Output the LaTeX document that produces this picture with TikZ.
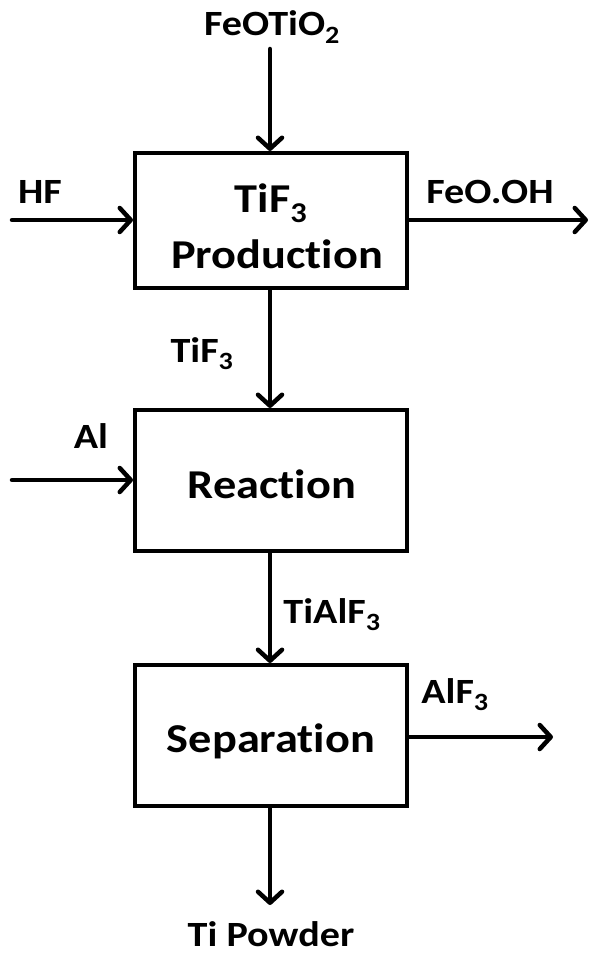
\documentclass[tikz,border=0pt]{standalone}
\usepackage{fontspec}
\setmainfont[Ligatures=NoCommon,FakeStretch=1.13]{Carlito}
\usetikzlibrary{arrows.meta}
\begin{document}
\begin{tikzpicture}[x=1pt,y=-1pt,
  proc/.style={draw,line width=4pt,minimum width=272pt,minimum height=141pt,inner sep=0pt},
  ptext/.style={anchor=base,inner sep=0pt,font=\fontsize{41}{56}\selectfont\bfseries},
  lbl/.style={anchor=base,inner sep=0pt,font=\fontsize{35.5}{40}\selectfont\bfseries},
  flow/.style={line width=4.5pt,line cap=round,-{Straight Barb[length=11pt,width=24pt,line cap=round,line join=round]}}]
\useasboundingbox (0,0) rectangle (594,955);
\node[proc,minimum height=135pt] (p1) at (271,220.5) {};
\node[proc] (p2) at (271,480.5) {};
\node[proc] (p3) at (271,735.5) {};
\node[ptext] (t1a) at (271,212) {TiF\textsubscript{3}};
\node[ptext] (t1b) at (277,268) {Production};
\node[ptext] (t2) at (272,498) {Reaction};
\node[ptext] (t3) at (271,752) {Separation};
\coordinate (feotop) at (270,49);
\coordinate (hfin) at (12,220);
\coordinate (feoout) at (588,220);
\coordinate (alin) at (12,480);
\coordinate (alfout) at (553,737);
\coordinate (tiout) at (270,905);
\node[lbl] (lfeo) at (272,36) {FeOTiO\textsubscript{2}};
\node[lbl] (lhf) at (40,203) {HF};
\node[lbl] (lfeooh) at (490,203) {FeO.OH};
\node[lbl] (ltif) at (202,362) {TiF\textsubscript{3}};
\node[lbl] (lal) at (91,448) {Al};
\node[lbl] (ltialf) at (332,623) {TiAlF\textsubscript{3}};
\node[lbl] (lalf) at (455,703) {AlF\textsubscript{3}};
\node[lbl] (lti) at (271,946) {Ti Powder};
\draw[flow] (feotop) -- (feotop |- p1.north);
\draw[flow] (hfin) -- (hfin -| p1.west);
\draw[flow] (feoout -| p1.east) -- (feoout);
\draw[flow] (p1.south -| feotop) -- (p2.north -| feotop);
\draw[flow] (alin) -- (alin -| p2.west);
\draw[flow] (p2.south -| feotop) -- (p3.north -| feotop);
\draw[flow] (alfout -| p3.east) -- (alfout);
\draw[flow] (p3.south -| tiout) -- (tiout);
\end{tikzpicture}
\end{document}
